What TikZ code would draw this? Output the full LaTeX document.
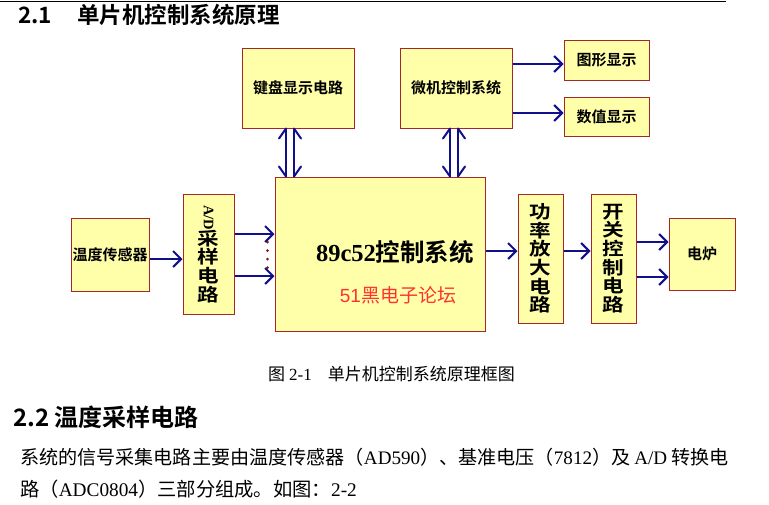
\documentclass[tikz,border=0pt]{standalone}
\usepackage{fontspec}
\usetikzlibrary{arrows.meta}
\setmainfont{Liberation Serif}
\newfontfamily\hei{Noto Sans CJK SC}
\newfontfamily\heib{Noto Sans CJK SC}[UprightFont=* Bold]
\newfontfamily\tnr{Liberation Serif}
\newfontfamily\arialf{Liberation Sans}
\newcommand{\vcx}[1]{\scalebox{1.2}[1]{#1}}
\definecolor{boxfill}{RGB}{255,255,170}
\definecolor{boxline}{RGB}{165,40,40}
\definecolor{arr}{RGB}{16,16,140}
\definecolor{redtxt}{RGB}{255,50,50}
\definecolor{dotc}{RGB}{140,20,20}
\tikzset{
  blk/.style={draw=boxline, fill=boxfill, line width=1pt, inner sep=0pt,
    font=\fontsize{15}{16}\selectfont\heib},
  vblk/.style={blk, align=center, font=\fontsize{18}{18.7}\selectfont\heib},
  conn/.style={draw=arr, line width=2pt, -{Straight Barb[length=8pt,width=16pt]}},
  dblline/.style={draw=arr, line width=2pt},
  barb/.style={draw=arr, line width=2pt, line cap=round},
  plain/.style={inner sep=0pt, anchor=west}
}
\begin{document}
\begin{tikzpicture}[x=1pt, y=-1pt]
\useasboundingbox (0,0) rectangle (769,504);
% top rule
\coordinate (ruleL) at (0,1.5);
\coordinate (ruleR) at (726,1.5);
\draw[line width=0.8pt] (ruleL) -- (ruleR);
% headings
\node[plain, font=\fontsize{22.5}{23}\selectfont\heib] (h1) at (18,15) {2.1\hspace{25pt}单片机控制系统原理};
% boxes
\node[blk, minimum width=78pt, minimum height=73pt] (temp) at (110,254.5) {温度传感器};
\node[vblk, minimum width=51pt, minimum height=120pt] (ad) at (208.5,254)
  {\rotatebox{-90}{\tnr\bfseries\fontsize{14.5}{14}\selectfont A/D}\\[-1pt]\vcx{采}\\\vcx{样}\\\vcx{电}\\\vcx{路}};
\node[blk, minimum width=210pt, minimum height=154pt] (main) at (380,254) {};
\node[inner sep=0pt, font=\fontsize{24.5}{25}\selectfont] (mt) at (395,252) {{\tnr\bfseries 89c52}{\heib 控制系统}};
\node[inner sep=0pt, text=redtxt, font=\fontsize{19}{20}\selectfont] (mr) at (398,295) {{\arialf 51}{\hei 黑电子论坛}};
\node[blk, minimum width=112pt, minimum height=80pt] (kb) at (298,88) {键盘显示电路};
\node[blk, minimum width=112pt, minimum height=80pt] (mc) at (456,88) {微机控制系统};
\node[blk, minimum width=85pt, minimum height=40pt] (g1) at (606.5,60) {图形显示};
\node[blk, minimum width=85pt, minimum height=39pt] (g2) at (606.5,116.5) {数值显示};
\node[vblk, minimum width=45pt, minimum height=129pt] (amp) at (540.5,258.5)
  {\vcx{功}\\\vcx{率}\\\vcx{放}\\\vcx{大}\\\vcx{电}\\\vcx{路}};
\node[vblk, minimum width=45pt, minimum height=129pt] (sw) at (613.5,258.5)
  {\vcx{开}\\\vcx{关}\\\vcx{控}\\\vcx{制}\\\vcx{电}\\\vcx{路}};
\node[blk, minimum width=66pt, minimum height=72pt] (fur) at (702,254) {电炉};
% connectors
\draw[conn] ([yshift=-4.5pt]temp.east) -- ([yshift=-4.5pt]temp.east -| ad.west);
\draw[conn] ([yshift=20pt]ad.east) -- ([yshift=20pt]ad.east -| main.west);
\draw[conn] ([yshift=-22pt]ad.east) -- ([yshift=-22pt]ad.east -| main.west);
\foreach \yy in {12,3.5,-5,-13.5}
  \fill[dotc] ([xshift=-7pt,yshift=\yy pt]main.west) circle (1.5pt);
\draw[conn] ([yshift=3pt]main.east) -- ([yshift=3pt]main.east -| amp.west);
\draw[conn] ([yshift=7.5pt]amp.east) -- ([yshift=7.5pt]amp.east -| sw.west);
\draw[conn] ([yshift=12pt]fur.west -| sw.east) -- ([yshift=12pt]fur.west);
\draw[conn] ([yshift=-23pt]fur.west -| sw.east) -- ([yshift=-23pt]fur.west);
\draw[conn] ([yshift=-4pt]g1.west -| mc.east) -- ([yshift=-4pt]g1.west);
\draw[conn] ([yshift=3.5pt]g2.west -| mc.east) -- ([yshift=3.5pt]g2.west);
% double arrows keyboard <-> main, micro <-> main
\foreach \nd/\a/\b in {kb/-12/-4, mc/-6/2}{
  \draw[dblline] ([xshift=\a pt]\nd.south) -- ([xshift=\a pt]\nd.south |- main.north);
  \draw[dblline] ([xshift=\b pt]\nd.south) -- ([xshift=\b pt]\nd.south |- main.north);
  \draw[barb] ([xshift=\a pt-7pt, yshift=-10pt]\nd.south) -- ([xshift=\a pt]\nd.south);
  \draw[barb] ([xshift=\b pt+7pt, yshift=-10pt]\nd.south) -- ([xshift=\b pt]\nd.south);
  \draw[barb] ([xshift=\a pt-7pt, yshift=10pt]\nd.south |- main.north) -- ([xshift=\a pt]\nd.south |- main.north);
  \draw[barb] ([xshift=\b pt+7pt, yshift=10pt]\nd.south |- main.north) -- ([xshift=\b pt]\nd.south |- main.north);
}
% caption and text
\node[plain, font=\fontsize{17}{18}\selectfont] (cap) at (268,374)
  {{\hei 图}\hspace{4pt}{\tnr 2-1}\hspace{16pt}{\hei 单片机控制系统原理框图}};
\node[plain, font=\fontsize{24}{25}\selectfont\heib] (h2) at (13,417) {2.2\hspace{5pt}温度采样电路};
\node[plain, font=\fontsize{19.1}{20}\selectfont] (p1) at (20,457)
  {{\hei 系统的信号采集电路主要由温度传感器（}AD590{\hei ）、基准电压（}7812{\hei ）及}\hspace{4pt}A/D\hspace{4pt}{\hei 转换电}};
\node[plain, font=\fontsize{19.3}{20}\selectfont] (p2) at (20,489)
  {{\hei 路（}ADC0804{\hei ）三部分组成。如图：}2-2};
\end{tikzpicture}
\end{document}
